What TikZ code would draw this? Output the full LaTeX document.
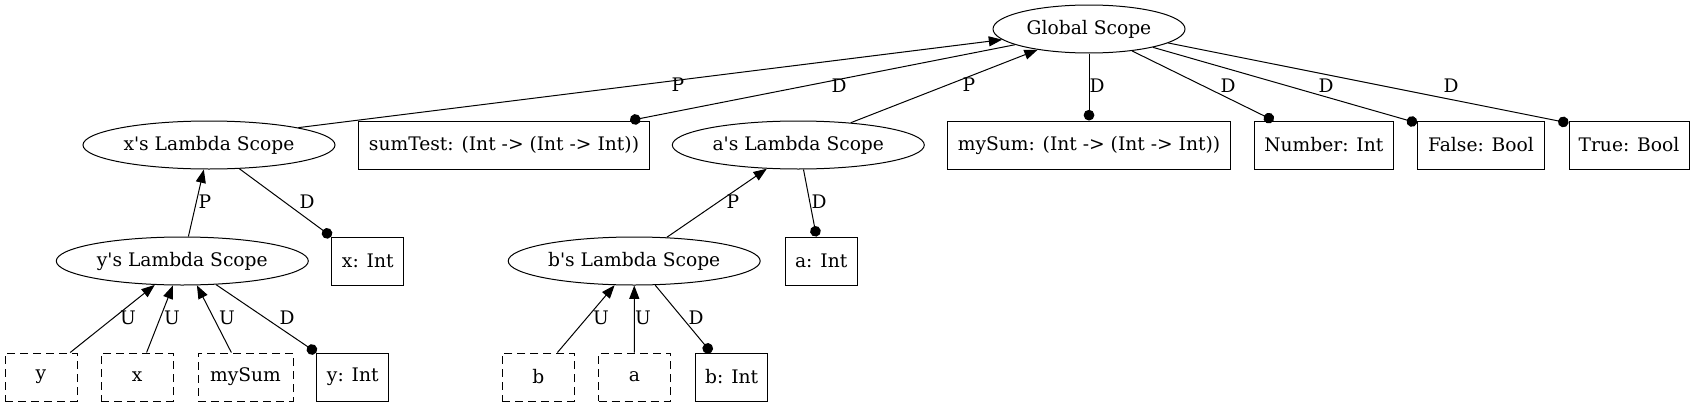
\documentclass[tikz,border=0pt]{standalone}
\usepackage{fontspec}
\setmainfont{DejaVu Serif}
\usetikzlibrary{arrows.meta,shapes.geometric}
\tikzset{
  scopenode/.style={ellipse,draw,line width=.75pt,minimum width=189pt,minimum height=36pt,inner sep=0pt},
  decl/.style={rectangle,draw,line width=.75pt,minimum height=36pt,inner sep=2pt},
  usebox/.style={decl,dash pattern=on 6pt off 3.75pt},
  parr/.style={-{Triangle[length=10pt,width=7.5pt]},line width=.75pt},
  darr/.style={-{Circle[length=8pt]},line width=.75pt},
  lbl/.style={inner sep=0pt},
}

\begin{document}
\begin{tikzpicture}[x=.75pt,y=-.75pt,font=\fontsize{14}{17}\selectfont]
  \useasboundingbox (0,0) rectangle (1695,407);
  % global scope and its declarations
  \node[scopenode,minimum width=144pt] (G) at (1089,29) {Global Scope};
  \node[scopenode] (xL) at (209,145) {x\textquotesingle s Lambda Scope};
  \node[decl,minimum width=218.25pt] (sumT) at (504,145) {sumTest: (Int -> (Int -> Int))};
  \node[scopenode] (aL) at (798.3,145) {a\textquotesingle s Lambda Scope};
  \node[decl,minimum width=212.25pt] (mySumT) at (1089,145) {mySum: (Int -> (Int -> Int))};
  \node[decl,minimum width=104.25pt] (numT) at (1323.8,145) {Number: Int};
  \node[decl,minimum width=95.25pt] (falseT) at (1481,145) {False: Bool};
  \node[decl,minimum width=90pt] (trueT) at (1629,145) {True: Bool};
  % lambda scopes
  \node[scopenode] (yL) at (182.3,261) {y\textquotesingle s Lambda Scope};
  \node[decl,minimum width=54pt] (xT) at (367.8,261) {x: Int};
  \node[scopenode] (bL) at (634.2,261) {b\textquotesingle s Lambda Scope};
  \node[decl,minimum width=54pt] (aT) at (821.2,261) {a: Int};
  % uses
  \node[usebox,minimum width=54pt] (yU) at (41,377) {y};
  \node[usebox,minimum width=54pt] (xU) at (137.2,377) {x};
  \node[usebox,minimum width=71.25pt] (mySumU) at (245.5,377) {mySum};
  \node[decl,minimum width=54pt] (yT) at (352.8,377) {y: Int};
  \node[usebox,minimum width=54pt] (bU) at (538.3,377) {b};
  \node[usebox,minimum width=54pt] (aU) at (634.5,377) {a};
  \node[decl,minimum width=54pt] (bT) at (731.7,377) {b: Int};

  % top level edges
  \draw[parr] (xL.11) -- (G.187) node[lbl] (pxG) at (678,85) {P};
  \draw[darr] (G.192) -- (sumT.11) node[lbl] (dGsum) at (839,86) {D};
  \draw[parr] (aL.23) -- (G.202) node[lbl] (paG) at (969,85) {P};
  \draw[darr] (G) -- (mySumT) node[lbl] (dGmy) at (1097,86) {D};
  \draw[darr] (G.333) -- (numT.154) node[lbl] (dGnum) at (1228,86) {D};
  \draw[darr] (G.344) -- (falseT.161) node[lbl] (dGfalse) at (1326,86) {D};
  \draw[darr] (G.350) -- (trueT.160) node[lbl] (dGtrue) at (1451,86) {D};
  % middle edges
  \draw[parr] (yL.76) -- (xL.258) node[lbl] (pyx) at (205,202) {P};
  \draw[darr] (xL.322) -- (xT.north west) node[lbl] (dxx) at (307,202) {D};
  \draw[parr] (bL.36) -- (aL.217) node[lbl] (pba) at (733,202) {P};
  \draw[darr] (aL.282) -- (aT.101) node[lbl] (daa) at (819,202) {D};
  % bottom edges
  \draw[parr] (yU.40) -- (yL.221) node[lbl] (uy) at (128,318) {U};
  \draw[parr] (xU.69) -- (yL.249) node[lbl] (ux) at (172,318) {U};
  \draw[parr] (mySumU.120) -- (yL.301) node[lbl] (umy) at (227,318) {U};
  \draw[darr] (yL.325) -- (yT.north west) node[lbl] (dyy) at (287,318) {D};
  \draw[parr] (bU.52) -- (bL.231) node[lbl] (ub) at (601,318) {U};
  \draw[parr] (aU) -- (bL) node[lbl] (ua) at (643,318) {U};
  \draw[darr] (bL.311) -- (bT.130) node[lbl] (dbb) at (696,318) {D};
\end{tikzpicture}
\end{document}
